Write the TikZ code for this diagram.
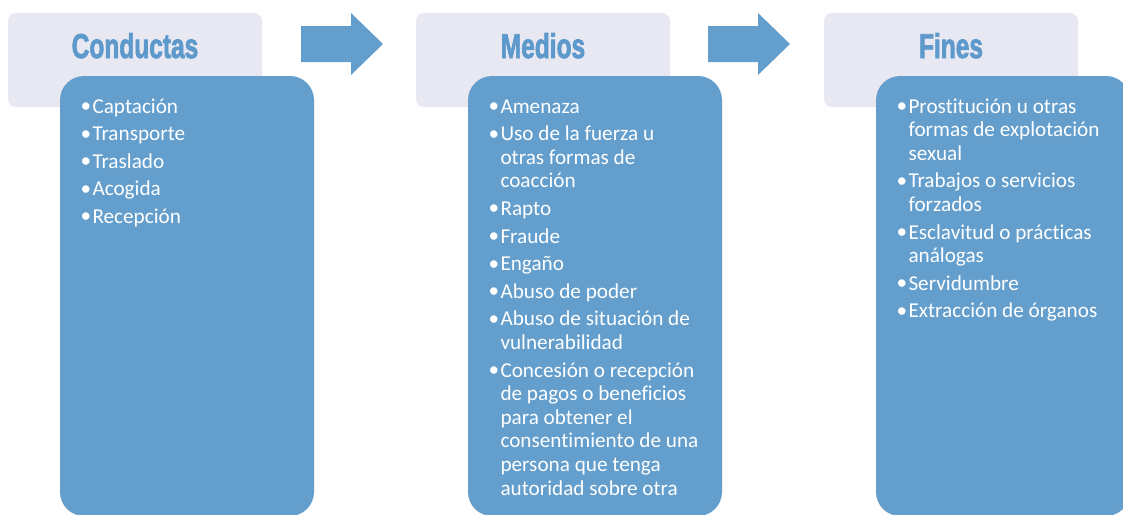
\documentclass[tikz,border=0pt]{standalone}
\usepackage{fontspec}
\setmainfont{Carlito}[Ligatures=NoCommon]
\newfontfamily\headfont{Liberation Sans}[BoldFeatures={FakeBold=2.5}]
\usetikzlibrary{calc}
\definecolor{boxblue}{RGB}{99,158,204}
\definecolor{headbg}{RGB}{231,232,242}
\definecolor{headtxt}{RGB}{94,153,204}
\newcommand{\bitem}[1]{\noindent\hangindent=13.3pt\hangafter=1\makebox[13.3pt][c]{\raisebox{0.5pt}{•}}#1\par}
\newcommand{\itemsize}{\fontsize{21.2}{23.6}\selectfont}
\newcommand{\headtext}[1]{\scalebox{0.71}[1]{\headfont\bfseries #1}}
\tikzset{
  headbox/.style={fill=headbg, rounded corners=8pt},
  bluebox/.style={fill=boxblue, rounded corners=24pt},
  headlabel/.style={text=headtxt, font=\fontsize{34.5}{38}\selectfont, inner sep=0},
  listtext/.style={anchor=base west, inner sep=0, text=white, font=\itemsize},
  bigarrow/.style={fill=boxblue}
}
\begin{document}
\begin{tikzpicture}[x=1pt,y=-1pt]
\useasboundingbox (0,0) rectangle (1123,514);
\clip (0,0) rectangle (1123,514);
% header boxes
\path[headbox] (8,13) rectangle (262,107);
\path[headbox] (416,13) rectangle (670,107);
\path[headbox] (824,13) rectangle (1078,107);
\node[headlabel, anchor=base] (h1) at (135,58) {\headtext{Conductas}};
\node[headlabel, anchor=base] (h2) at (543,58) {\headtext{Medios}};
\node[headlabel, anchor=base] (h3) at (951,58) {\headtext{Fines}};
% blue boxes
\path[bluebox] (60,76) rectangle (314,516);
\path[bluebox] (468,76) rectangle (722,516);
\path[bluebox] (876,76) rectangle (1130,516);
% arrows
\path[bigarrow] (301,26) -- (351,26) -- (351,13) -- (383,44) -- (351,75) -- (351,62) -- (301,62) -- cycle;
\path[bigarrow] (708,26) -- (758,26) -- (758,13) -- (790,44) -- (758,75) -- (758,62) -- (708,62) -- cycle;
% lists
\node[listtext] (l1) at (79,113) {\parbox[t]{225pt}{\itemsize\setlength{\parskip}{4.0pt}%
\bitem{Captación}
\bitem{Transporte}
\bitem{Traslado}
\bitem{Acogida}
\bitem{Recepción}}};
\node[listtext] (l2) at (487,113) {\parbox[t]{225pt}{\itemsize\setlength{\parskip}{4.0pt}%
\bitem{Amenaza}
\bitem{Uso de la fuerza u\\otras formas de\\coacción}
\bitem{Rapto}
\bitem{Fraude}
\bitem{Engaño}
\bitem{Abuso de poder}
\bitem{Abuso de situación de\\vulnerabilidad}
\bitem{Concesión o recepción\\de pagos o beneficios\\para obtener el\\consentimiento de una\\persona que tenga\\autoridad sobre otra}}};
\node[listtext] (l3) at (895,113) {\parbox[t]{225pt}{\itemsize\setlength{\parskip}{4.0pt}%
\bitem{Prostitución u otras\\formas de explotación\\sexual}
\bitem{Trabajos o servicios\\forzados}
\bitem{Esclavitud o prácticas\\análogas}
\bitem{Servidumbre}
\bitem{Extracción de órganos}}};
\end{tikzpicture}
\end{document}
